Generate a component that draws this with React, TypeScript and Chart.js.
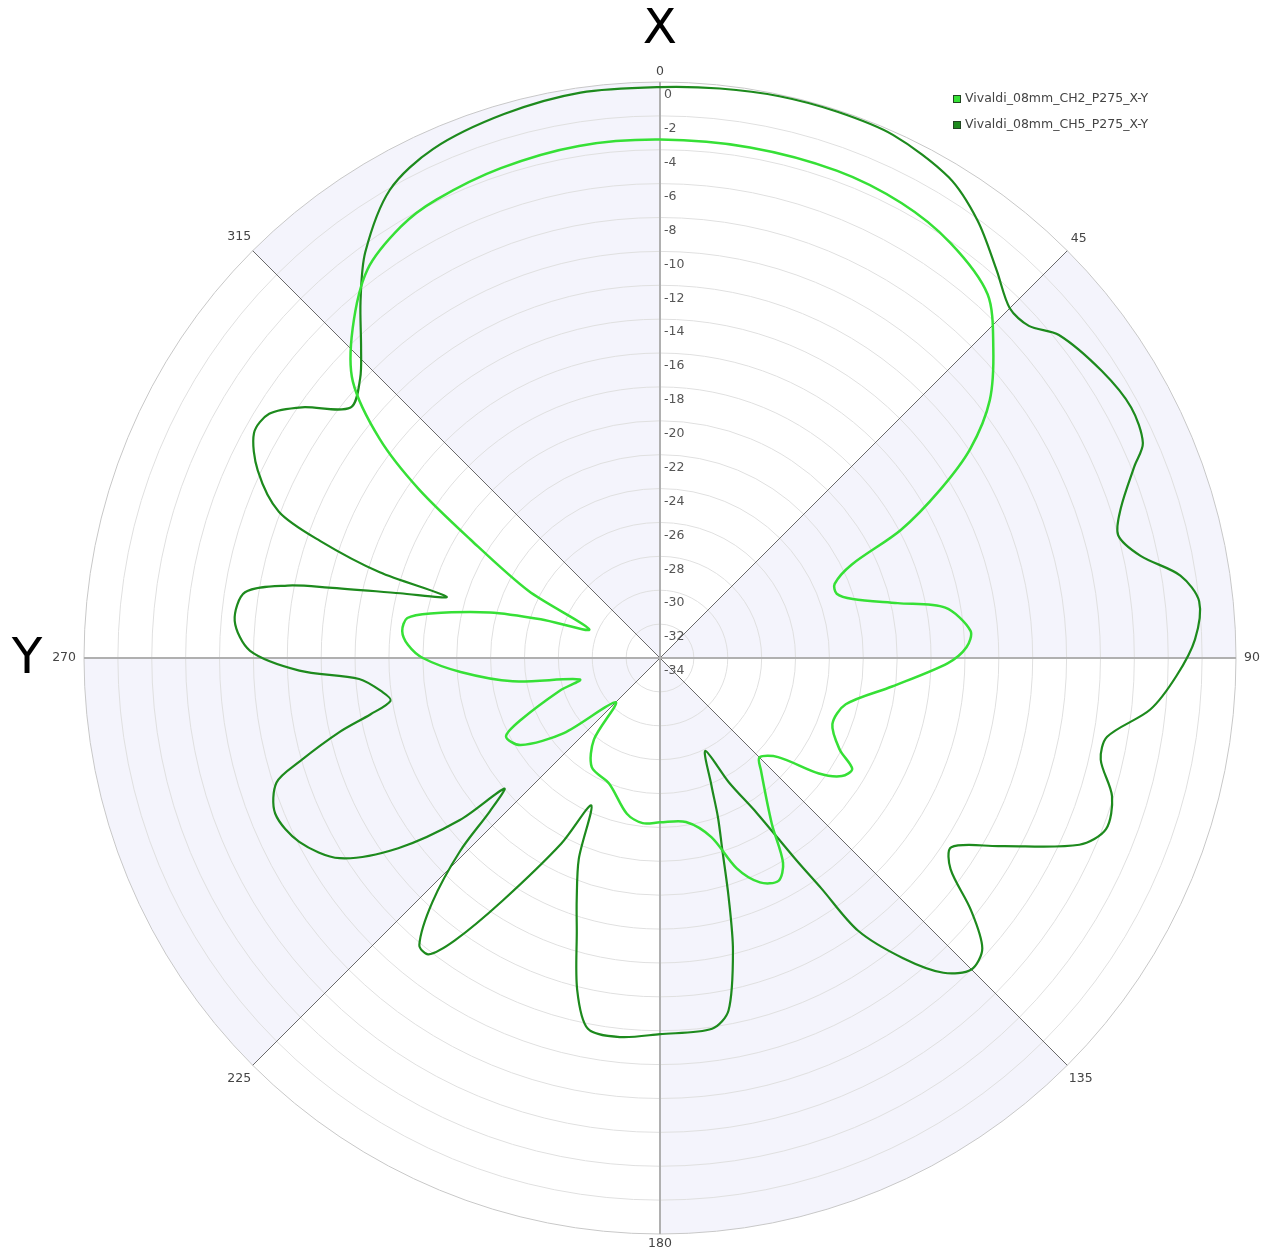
import React, { useEffect, useRef } from 'react';
import { Chart, registerables } from 'chart.js';

Chart.register(...registerables);

// ---- data ----
const seriesNames = ['Vivaldi_08mm_CH2_P275_X-Y', 'Vivaldi_08mm_CH5_P275_X-Y'];
const seriesColors = ['#36e036', '#1d8a1d'];
const angleTickLabels = [0, 45, 90, 135, 180, 225, 270, 315];
const shadedSectorStarts = [315, 45, 135, 225];
const radialMin = -34;
const radialMax = 0;
const radialStep = 2;
const topTitle = 'X';
const leftTitle = 'Y';

// angles (deg, clockwise from top) and gains (dB)
const ch2Angles = [0, 10, 20, 28, 35, 42, 47, 52, 56, 59, 62, 64, 67, 70, 73, 77, 80, 85, 88, 91, 97, 104, 111, 117, 120, 123, 126, 130, 135, 138, 146, 149, 152, 156, 160, 164, 171, 180, 186, 192, 202, 212, 219, 225, 232, 238, 243, 246, 252, 255, 261, 266, 270, 273, 276, 279, 281, 285, 288, 292, 297, 302, 305, 308, 312, 317, 323, 329, 334, 342, 351];
const ch2Values = [-3.4, -3.4, -3.4, -3.6, -4.1, -5.1, -7.1, -9.3, -11.9, -14.7, -17.9, -21.4, -22.8, -22.9, -22.1, -19.6, -16.9, -15.6, -15.9, -17.0, -20.2, -22.7, -23.1, -22.1, -20.9, -21.2, -22.4, -24.9, -25.7, -25.1, -22.2, -19.9, -19.1, -19.5, -20.8, -23.0, -24.2, -24.3, -24.2, -24.6, -26.0, -26.4, -27.8, -30.3, -26.8, -24.3, -23.8, -25.0, -27.8, -29.1, -25.2, -22.2, -20.0, -19.1, -18.7, -18.9, -20.2, -23.6, -26.6, -29.5, -25.3, -20.8, -16.6, -13.0, -9.6, -7.4, -5.3, -4.3, -3.9, -3.6, -3.4];

const ch5Angles = [0, 6, 12, 18, 24, 31, 36, 41, 45, 48, 51, 57, 62, 66, 68, 72, 75, 78, 81, 84, 88, 92, 96, 100, 103, 107, 111, 114, 119, 123, 126, 129, 132, 135, 138, 141, 144, 145, 146, 148, 151, 154, 158, 160, 162, 164, 166, 169, 172, 180, 186, 191, 194, 197, 199, 202, 205, 208, 213, 216, 218, 220, 223, 226, 228, 230, 231, 234, 238, 243, 248, 252, 254, 257, 259, 261, 263, 266, 268, 271, 275, 279, 281, 282, 284, 286, 287, 289, 291, 295, 299, 302, 305, 309, 313, 316, 320, 324, 330, 336, 344, 352];
const ch5Values = [-0.3, -0.2, -0.1, -0.1, -0.2, -0.9, -2.1, -3.7, -4.8, -4.7, -3.7, -2.9, -2.5, -2.8, -3.8, -5.4, -6.0, -5.0, -2.9, -2.0, -2.4, -3.5, -4.9, -7.2, -7.3, -6.1, -5.8, -6.9, -11.1, -13.5, -12.8, -10.4, -8.4, -8.0, -9.0, -11.2, -14.1, -17.4, -19.6, -23.2, -25.6, -27.9, -25.9, -24.0, -22.1, -19.3, -16.2, -12.8, -11.9, -11.8, -11.5, -11.7, -13.8, -17.2, -18.9, -21.2, -24.4, -21.6, -16.9, -13.4, -11.8, -11.9, -14.3, -17.6, -20.5, -22.0, -18.8, -14.9, -11.7, -10.1, -9.5, -10.2, -11.9, -14.6, -16.6, -17.9, -17.5, -16.2, -12.7, -9.8, -8.8, -9.2, -11.6, -14.0, -18.2, -20.9, -16.7, -12.8, -9.9, -7.8, -6.6, -6.8, -8.2, -10.5, -9.8, -8.6, -6.5, -4.4, -2.1, -1.1, -0.6, -0.3];

const degreeLabels = Array.from({ length: 360 }, (_, i) => String(i));

function toDegreeSeries(angles: number[], values: number[]) {
  const arr: (number | null)[] = new Array(360).fill(null);
  angles.forEach((a, i) => {
    arr[a % 360] = values[i];
  });
  return arr;
}

const FONT = '"DejaVu Sans", Verdana, sans-serif';

const decorPlugin = {
  id: 'decor',
  beforeDraw(chart: any) {
    const s = chart.scales.r;
    const ctx = chart.ctx;
    const R = s.drawingArea;
    ctx.save();
    ctx.fillStyle = '#f4f4fc';
    shadedSectorStarts.forEach((a) => {
      ctx.beginPath();
      ctx.moveTo(s.xCenter, s.yCenter);
      ctx.arc(s.xCenter, s.yCenter, R, ((a - 90) * Math.PI) / 180, ((a + 45 - 90) * Math.PI) / 180);
      ctx.closePath();
      ctx.fill();
    });
    ctx.restore();
  },
  beforeDatasetsDraw(chart: any) {
    const s = chart.scales.r;
    const ctx = chart.ctx;
    ctx.save();
    ctx.font = `12.5px ${FONT}`;
    ctx.fillStyle = '#555';
    ctx.textAlign = 'left';
    ctx.textBaseline = 'middle';
    s.ticks.forEach((t: any) => {
      const d = s.getDistanceFromCenterForValue(t.value);
      ctx.fillText(String(t.value), s.xCenter + 4, s.yCenter - d + 13);
    });
    ctx.restore();
  },
  afterDraw(chart: any) {
    const s = chart.scales.r;
    const ctx = chart.ctx;
    const R = s.drawingArea;
    ctx.save();
    // angle labels
    ctx.font = `12.5px ${FONT}`;
    ctx.fillStyle = '#444';
    ctx.textAlign = 'center';
    ctx.textBaseline = 'middle';
    angleTickLabels.forEach((a) => {
      const txt = String(a);
      const w = ctx.measureText(txt).width;
      const rad = (a * Math.PI) / 180;
      const gap = 5 + Math.abs(Math.sin(rad)) * (w / 2 + 3) + Math.abs(Math.cos(rad)) * 5;
      const p = s.getPointPosition(a, R + gap);
      ctx.fillText(txt, p.x, p.y);
    });
    // big axis titles
    ctx.fillStyle = '#000';
    ctx.font = `50px ${FONT}`;
    ctx.fillText(topTitle, s.xCenter, s.yCenter - R - 52);
    ctx.fillText(leftTitle, 19, s.yCenter + 2);
    // legend
    ctx.font = `12.5px ${FONT}`;
    ctx.textAlign = 'left';
    const x0 = chart.width - 310;
    chart.data.datasets.forEach((ds: any, i: number) => {
      const y = 91 + i * 26;
      ctx.fillStyle = ds.borderColor;
      ctx.fillRect(x0, y - 4, 8, 8);
      ctx.strokeStyle = '#224422';
      ctx.lineWidth = 1;
      ctx.strokeRect(x0 + 0.5, y - 3.5, 7, 7);
      ctx.fillStyle = '#444';
      ctx.fillText(ds.label, x0 + 12, y);
    });
    ctx.restore();
  },
};

export default function App() {
  const ref = useRef<HTMLCanvasElement | null>(null);
  useEffect(() => {
    if (!ref.current) return;
    const chart = new Chart(ref.current, {
      type: 'radar',
      data: {
        labels: degreeLabels,
        datasets: [
          {
            label: seriesNames[0],
            data: toDegreeSeries(ch2Angles, ch2Values),
            borderColor: seriesColors[0],
            backgroundColor: seriesColors[0],
            borderWidth: 2.5,
            fill: false,
            pointRadius: 0,
            pointHoverRadius: 0,
            spanGaps: true,
            tension: 0.3,
          },
          {
            label: seriesNames[1],
            data: toDegreeSeries(ch5Angles, ch5Values),
            borderColor: seriesColors[1],
            backgroundColor: seriesColors[1],
            borderWidth: 2.2,
            fill: false,
            pointRadius: 0,
            pointHoverRadius: 0,
            spanGaps: true,
            tension: 0.3,
          },
        ],
      },
      options: {
        responsive: false,
        animation: false,
        layout: { padding: { left: 76, top: 74, right: 27, bottom: 14 } },
        plugins: { legend: { display: false }, tooltip: { enabled: false } },
        scales: {
          r: {
            min: radialMin,
            max: radialMax,
            ticks: { stepSize: radialStep, display: false },
            pointLabels: { display: false },
            grid: {
              circular: true,
              color: (c: any) => (c.tick && c.tick.value === radialMax ? '#c8c8c8' : '#e0e0e0'),
              lineWidth: 1,
            },
            angleLines: {
              display: true,
              color: (c: any) => (c.index % 90 === 0 ? '#b0b0b0' : c.index % 45 === 0 ? '#6a6a6a' : 'rgba(0,0,0,0)'),
              lineWidth: (c: any) => (c.index % 90 === 0 ? 2 : c.index % 45 === 0 ? 1 : 0),
            },
          },
        },
      },
      plugins: [decorPlugin],
    } as any);
    return () => chart.destroy();
  }, []);
  return (
    <div style={{ width: 1255, height: 1240 }}>
      <canvas ref={ref} width={1255} height={1240} style={{ display: 'block' }} />
    </div>
  );
}
